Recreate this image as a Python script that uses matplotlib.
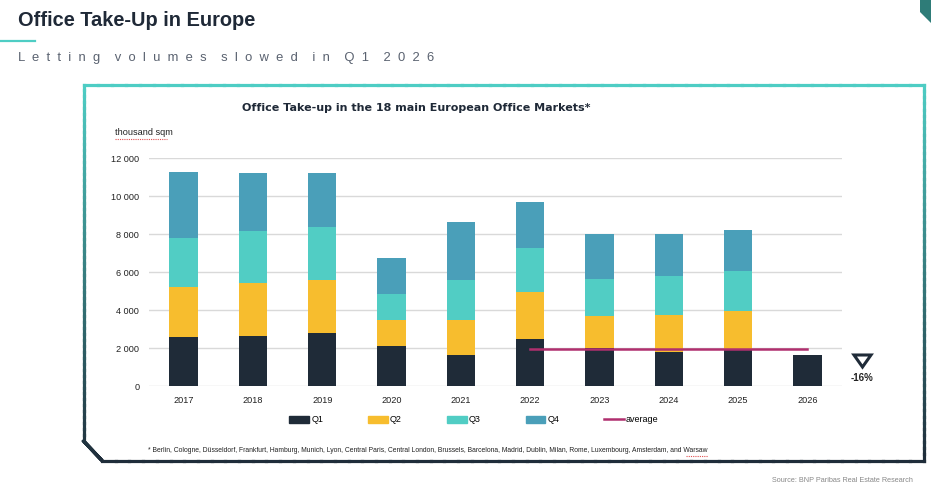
import numpy as np
import matplotlib
matplotlib.use("Agg")
import matplotlib.pyplot as plt
from matplotlib.collections import LineCollection
from matplotlib.patches import Polygon, Patch
from matplotlib.lines import Line2D
from matplotlib.ticker import FuncFormatter

plt.rcParams['font.family'] = ['Liberation Sans', 'DejaVu Sans']

W, H = 931, 484

# données (milliers de m²)
years = ['2017', '2018', '2019', '2020', '2021', '2022', '2023', '2024', '2025', '2026']
q1 = [2580, 2630, 2790, 2100, 1630, 2470, 1980, 1790, 1940, 1630]
q2 = [2630, 2790, 2810, 1390, 1860, 2480, 1720, 1950, 2010, 0]
q3 = [2580, 2740, 2770, 1350, 2090, 2310, 1930, 2050, 2100, 0]
q4 = [3470, 3050, 2840, 1900, 3050, 2420, 2370, 2210, 2160, 0]
avg_years = ['2022', '2023', '2024', '2025', '2026']
average = [1970, 1970, 1970, 1970, 1970]

c_q1 = '#1f2b38'
c_q2 = '#f7bd2e'
c_q3 = '#51cdc4'
c_q4 = '#4a9fb9'
c_avg = '#b02f6e'
teal = '#4ecdc4'
dark = '#1f2d3a'


def fx(x):
    return x / W


def fy(y):
    return 1 - y / H


fig = plt.figure(figsize=(W / 100, H / 100), dpi=100)
fig.patch.set_facecolor('white')

# en-tête
fig.text(fx(18), fy(20), 'Office Take-Up in Europe', fontsize=14.4, fontweight='bold',
         color='#1f2937', va='center')
fig.add_artist(Line2D([fx(0), fx(35)], [fy(41), fy(41)], color=teal, lw=1.6))
fig.text(fx(18), fy(58), '    '.join('  '.join(w) for w in 'Letting volumes slowed in Q1 2026'.split()),
         fontsize=9.4, color='#5a6270', va='center')
fig.add_artist(Polygon([(fx(920), fy(0)), (fx(931), fy(0)), (fx(931), fy(23)), (fx(920), fy(12))],
                       closed=True, transform=fig.transFigure, color='#2e7c78', lw=0))

# cadre avec dégradé
pts = [(83.5, 441), (83.5, 84.5), (924, 84.5), (924, 460.5), (102, 460.5), (83.5, 441)]
segs, cols = [], []
c0 = np.array(matplotlib.colors.to_rgb(teal))
c1 = np.array(matplotlib.colors.to_rgb(dark))
for (xa, ya), (xb, yb) in zip(pts[:-1], pts[1:]):
    n = 60
    for i in range(n):
        t0, t1 = i / n, (i + 1) / n
        x0, y0 = xa + (xb - xa) * t0, ya + (yb - ya) * t0
        x1, y1 = xa + (xb - xa) * t1, ya + (yb - ya) * t1
        segs.append([(fx(x0), fy(y0)), (fx(x1), fy(y1))])
        t = ((y0 + y1) / 2 - 84.5) / (460.5 - 84.5)
        cols.append(c0 * (1 - t) + c1 * t)
lc = LineCollection(segs, colors=cols, linewidths=2.3, transform=fig.transFigure, capstyle='projecting')
fig.add_artist(lc)

# graphique
ax = fig.add_axes([fx(149), fy(386), (842 - 149) / W, (386 - 158) / H])
x = np.arange(len(years))
b1 = np.array(q1)
b2 = b1 + np.array(q2)
b3 = b2 + np.array(q3)
bw = 0.41
ax.bar(x, q1, bw, color=c_q1, zorder=2)
ax.bar(x, q2, bw, bottom=b1, color=c_q2, zorder=2)
ax.bar(x, q3, bw, bottom=b2, color=c_q3, zorder=2)
ax.bar(x, q4, bw, bottom=b3, color=c_q4, zorder=2)
ax.plot([years.index(y) for y in avg_years], average, color=c_avg, lw=1.8, zorder=3)

ax.set_xlim(-0.5, len(years) - 0.5)
ax.set_ylim(0, 12000)
ax.set_yticks(range(0, 12001, 2000))
ax.yaxis.set_major_formatter(FuncFormatter(lambda v, p: f'{int(v):,}'.replace(',', ' ')))
ax.set_xticks(x)
ax.set_xticklabels(years)
ax.tick_params(length=0, labelsize=6.6, colors='#222222')
ax.tick_params(axis='y', pad=7)
ax.tick_params(axis='x', pad=7)
ax.grid(axis='y', color='#d9d9d9', lw=1, zorder=0)
for s in ax.spines.values():
    s.set_visible(False)

fig.text(fx(416), fy(108), 'Office Take-up in the 18 main European Office Markets*', fontsize=8,
         fontweight='bold', ha='center', va='center', color='#1f2937', family='DejaVu Sans')
fig.text(fx(115), fy(133), 'thousand sqm', fontsize=6.6, va='center', color='#222222')
fig.add_artist(Line2D([fx(115), fx(167)], [fy(138.5), fy(138.5)], color='#e05050', lw=0.8, ls=(0, (1, 1))))

# -16 %
fig.add_artist(Polygon([(fx(854), fy(355)), (fx(871), fy(355)), (fx(862.5), fy(367))], closed=True,
                       transform=fig.transFigure, fill=False, edgecolor=c_q1, lw=2.2, joinstyle='miter'))
fig.text(fx(862), fy(378), '-16%', fontsize=7, fontweight='bold', ha='center', va='center', color='#222222')

# légende
handles = [Patch(color=c_q1), Patch(color=c_q2), Patch(color=c_q3), Patch(color=c_q4),
           Line2D([], [], color=c_avg, lw=1.8)]
fig.legend(handles, ['Q1', 'Q2', 'Q3', 'Q4', 'average'], loc='center', ncol=5,
           bbox_to_anchor=(fx(474), fy(420)), frameon=False, fontsize=6.5,
           handlelength=2.2, handleheight=0.7, handletextpad=0.2, columnspacing=5.0)

note = fig.text(fx(148), fy(451), '* Berlin, Cologne, Düsseldorf, Frankfurt, Hamburg, Munich, Lyon, Central Paris, '
                'Central London, Brussels, Barcelona, Madrid, Dublin, Milan, Rome, Luxembourg, Amsterdam, and Warsaw',
                fontsize=4.85, va='center', color='#222222')
fig.text(fx(913), fy(480), 'Source: BNP Paribas Real Estate Research', fontsize=5.2, ha='right', va='center',
         color='#888888')

# soulignement ondulé sous « Warsaw »
fig.canvas.draw()
bb = note.get_window_extent()
x_end = bb.x1
fig.add_artist(Line2D([(x_end - 22) / W, x_end / W], [fy(455.5), fy(455.5)], color='#e05050', lw=0.8,
                      ls=(0, (1, 1))))

fig.savefig('out.png', dpi=100)
